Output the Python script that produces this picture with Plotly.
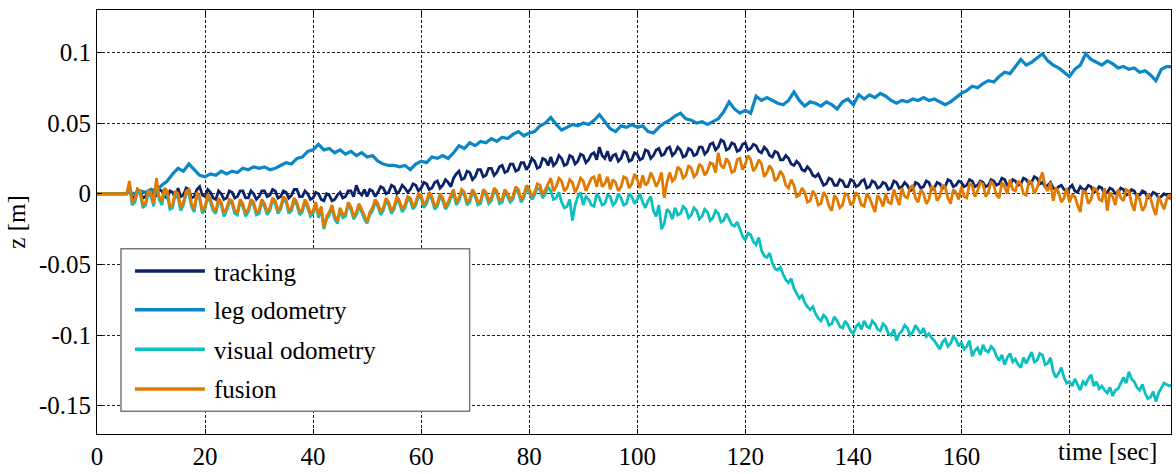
import plotly.graph_objects as go

# sample times [sec]: whole seconds, plus half-second samples for the noisy series
time_sec = list(range(200))
time_half = [t + 0.5 for t in range(199)]

tracking = [
    0, 0, 0, 0, 0, 0,
    0.002, -0.003, 0.001, -0.002, 0.003, -0.001, 0.002, -0.003, 0.001, 0.004, -0.001, 0.003, -0.002, 0.005, -0.002,
    0.001, -0.004, 0.000, -0.003, 0.001, -0.002, 0.002, -0.003, 0.000, -0.002, 0.002, -0.001, 0.002, -0.002, 0.001, -0.001, 0.003, -0.002, 0.000, -0.003,
    0.000, -0.005, -0.001, -0.004, 0.001, -0.002, 0.002, 0.006, -0.001, -0.002, 0.002, 0.001, 0.004, 0.001, 0.005, 0.002, 0.004, 0.003, 0.006, 0.004,
    0.007, 0.004, 0.009, 0.006, 0.008, 0.011, 0.016, 0.011, 0.015, 0.012, 0.017, 0.013, 0.018, 0.015, 0.020, 0.016, 0.021, 0.017, 0.022, 0.020,
    0.023, 0.019, 0.024, 0.026, 0.022, 0.025, 0.021, 0.026, 0.023, 0.027, 0.024, 0.029, 0.033, 0.025, 0.023, 0.028, 0.025, 0.029, 0.024, 0.028,
    0.025, 0.030, 0.027, 0.032, 0.028, 0.033, 0.029, 0.031, 0.027, 0.031, 0.028, 0.033, 0.030, 0.036, 0.033, 0.037, 0.032, 0.035, 0.031, 0.036,
    0.032, 0.034, 0.029, 0.031, 0.026, 0.029, 0.024, 0.025, 0.020, 0.021, 0.016, 0.017, 0.012, 0.010, 0.007, 0.010, 0.006, 0.009, 0.005, 0.009,
    0.006, 0.010, 0.005, 0.008, 0.005, 0.007, 0.004, 0.008, 0.005, 0.006, 0.003, 0.007, 0.005, 0.008, 0.004, 0.007, 0.005, 0.009, 0.006, 0.008,
    0.006, 0.009, 0.006, 0.008, 0.006, 0.009, 0.007, 0.010, 0.006, 0.009, 0.007, 0.010, 0.008, 0.011, 0.008, 0.006, 0.004, 0.005, 0.003, 0.004,
    0.002, 0.005, 0.003, 0.005, 0.002, 0.004, 0.001, 0.003, 0.001, 0.003, 0.000, 0.002, -0.001, 0.001, -0.002, 0.000, -0.002, -0.001, -0.002,
]
tracking_half = [
    0, 0, 0, 0, 0, 0,
    -0.002, 0.003, -0.003, 0.002, -0.003, 0.003, -0.002, 0.002, -0.003, -0.002, 0.004, -0.003, 0.003, -0.001, 0.003,
    -0.003, 0.002, -0.004, 0.002, -0.003, 0.002, -0.003, 0.002, -0.004, 0.002, -0.002, 0.003, -0.003, 0.002, -0.003, 0.003, -0.002, 0.002, -0.004, 0.001,
    -0.004, 0.000, -0.005, -0.001, -0.003, 0.002, -0.002, 0.001, 0.003, 0.003,
    -0.002, 0.005, 0.000, 0.006, 0.000, 0.006, 0.001, 0.007, 0.002, 0.008,
    0.003, 0.008, 0.004, 0.010, 0.005, 0.014, 0.010, 0.016, 0.010, 0.017,
    0.012, 0.018, 0.013, 0.019, 0.015, 0.021, 0.016, 0.022, 0.017, 0.025,
    0.018, 0.025, 0.020, 0.020, 0.027, 0.020, 0.027, 0.021, 0.028, 0.022,
    0.028, 0.024, 0.027, 0.030, 0.027, 0.023, 0.030, 0.023, 0.029, 0.024,
    0.031, 0.025, 0.031, 0.027, 0.032, 0.027, 0.033, 0.026, 0.032, 0.027,
    0.033, 0.028, 0.035, 0.031, 0.038, 0.031, 0.036, 0.030, 0.035, 0.031,
    0.035, 0.030, 0.033, 0.027, 0.030, 0.024, 0.027, 0.021, 0.023, 0.017,
    0.019, 0.013, 0.014, 0.006, 0.011, 0.006, 0.010, 0.005, 0.010, 0.005,
    0.009, 0.004, 0.009, 0.004, 0.008, 0.003, 0.009, 0.004, 0.008, 0.002,
    0.008, 0.004, 0.009, 0.003, 0.008, 0.004, 0.010, 0.005, 0.009, 0.005,
    0.010, 0.005, 0.009, 0.005, 0.010, 0.006, 0.011, 0.006, 0.010, 0.006,
    0.011, 0.007, 0.012, 0.007, 0.005, 0.008, 0.003, 0.006, 0.002, 0.006,
    0.001, 0.003, 0.006, 0.001, 0.005, 0.000, 0.004, 0.000, 0.004, -0.001,
    0.003, -0.002, 0.002, -0.003, 0.001, -0.003, 0.000, -0.003,
]

leg_odometry = [
    0, 0, 0, 0, 0, 0, 0.001, 0.000, 0.002, 0.001,
    0.003, 0.002, 0.006, 0.009, 0.014, 0.018, 0.016, 0.021, 0.017, 0.013, 0.012,
    0.014, 0.013, 0.016, 0.014, 0.016, 0.015, 0.018, 0.017, 0.019, 0.018,
    0.019, 0.017, 0.018, 0.020, 0.022, 0.021, 0.025, 0.026, 0.030, 0.031,
    0.035, 0.031, 0.032, 0.029, 0.031, 0.028, 0.030, 0.027, 0.029, 0.026,
    0.027, 0.023, 0.021, 0.020, 0.020, 0.019, 0.020, 0.017, 0.021, 0.023,
    0.022, 0.026, 0.025, 0.027, 0.025, 0.029, 0.034, 0.032, 0.036, 0.034,
    0.037, 0.036, 0.039, 0.037, 0.040, 0.039, 0.042, 0.044, 0.041, 0.043,
    0.044, 0.048, 0.050, 0.054, 0.049, 0.045, 0.047, 0.049, 0.048, 0.050,
    0.049, 0.052, 0.056, 0.051, 0.046, 0.044, 0.048, 0.047, 0.049, 0.047,
    0.048, 0.044, 0.043, 0.047, 0.050, 0.052, 0.055, 0.057, 0.053, 0.052,
    0.050, 0.051, 0.049, 0.051, 0.053, 0.058, 0.065, 0.060, 0.057, 0.059,
    0.057, 0.069, 0.066, 0.068, 0.066, 0.064, 0.063, 0.066, 0.072, 0.066,
    0.062, 0.065, 0.064, 0.062, 0.065, 0.063, 0.060, 0.065, 0.067, 0.063,
    0.070, 0.067, 0.070, 0.068, 0.071, 0.069, 0.066, 0.064, 0.066, 0.065,
    0.067, 0.066, 0.068, 0.066, 0.067, 0.065, 0.063, 0.065, 0.068, 0.071,
    0.073, 0.076, 0.075, 0.078, 0.080, 0.079, 0.083, 0.086, 0.085, 0.090,
    0.095, 0.091, 0.093, 0.096, 0.099, 0.094, 0.091, 0.089, 0.086, 0.083,
    0.088, 0.091, 0.099, 0.095, 0.093, 0.091, 0.094, 0.092, 0.089, 0.090,
    0.088, 0.089, 0.086, 0.087, 0.084, 0.080, 0.088, 0.090, 0.090,
]

visual_odometry = [
    0, 0, 0, 0, 0, 0,
    0.006, -0.006, 0.000, -0.008, -0.002, 0.008, -0.008, -0.001, -0.010, -0.003, -0.008, 0.000, -0.013, -0.004, -0.011,
    -0.006, -0.014, -0.008, -0.012, -0.007, -0.015, -0.009, -0.013, -0.008, -0.014, -0.009, -0.012, -0.007, -0.011, -0.006, -0.012, -0.008, -0.013, -0.010, -0.014,
    -0.017, -0.025, -0.015, -0.018, -0.012, -0.016, -0.011, -0.015, -0.013, -0.021,
    -0.012, -0.009, -0.012, -0.008, -0.011, -0.007, -0.010, -0.005, -0.008, -0.003,
    -0.007, -0.004, -0.009, -0.005, -0.008, 0.000, -0.005, -0.001, -0.006, -0.002,
    -0.007, -0.001, -0.005, 0.000, -0.006, -0.002, -0.004, 0.001, -0.003, 0.001,
    -0.001, 0.003, 0.000, 0.002, -0.003, -0.006, -0.009, -0.019, -0.002, -0.008,
    -0.004, -0.009, -0.003, -0.007, -0.002, -0.006, -0.003, -0.007, -0.002, -0.004,
    -0.006, -0.005, -0.012, -0.008, -0.021, -0.013, -0.010, -0.014, -0.011, -0.015,
    -0.012, -0.016, -0.013, -0.017, -0.014, -0.019, -0.018, -0.023, -0.025, -0.033,
    -0.029, -0.036, -0.040, -0.045, -0.049, -0.054, -0.057, -0.063, -0.067, -0.074,
    -0.077, -0.082, -0.085, -0.090, -0.088, -0.092, -0.090, -0.095, -0.093, -0.099,
    -0.092, -0.090, -0.095, -0.092, -0.097, -0.094, -0.100, -0.104, -0.097, -0.095,
    -0.098, -0.096, -0.095, -0.099, -0.104, -0.110, -0.103, -0.106, -0.103, -0.105,
    -0.108, -0.115, -0.109, -0.107, -0.112, -0.110, -0.118, -0.121, -0.113, -0.117,
    -0.123, -0.120, -0.112, -0.118, -0.114, -0.120, -0.126, -0.127, -0.130, -0.133,
    -0.131, -0.139, -0.135, -0.128, -0.133, -0.136, -0.141, -0.143, -0.138, -0.130,
    -0.126, -0.133, -0.139, -0.141, -0.144, -0.147, -0.137, -0.135, -0.135,
]
visual_odometry_half = [
    0, 0, 0, 0, 0, 0,
    -0.008, 0.001, -0.010, 0.000, -0.009, -0.004, 0.002, -0.011, 0.000, -0.012, 0.000, -0.009, -0.001, -0.014, -0.002,
    -0.012, -0.005, -0.016, -0.006, -0.014, -0.006, -0.016, -0.006, -0.015, -0.006, -0.015, -0.005, -0.014, -0.004, -0.014, -0.005, -0.015, -0.006, -0.016, -0.008,
    -0.011, -0.018, -0.010, -0.021, -0.017, -0.008, -0.018, -0.009, -0.018, -0.015,
    -0.006, -0.015, -0.005, -0.014, -0.004, -0.013, -0.004, -0.011, -0.002, -0.010,
    -0.001, -0.011, -0.002, -0.011, -0.003, -0.008, 0.001, -0.008, 0.001, -0.008,
    0.001, -0.007, 0.002, -0.007, 0.001, -0.006, 0.003, -0.006, 0.004, -0.004,
    0.004, -0.003, 0.005, -0.004, 0.001, -0.010, -0.004, -0.008, 0.001, -0.002,
    -0.008, 0.000, -0.008, -0.001, -0.008, 0.000, -0.008, 0.000, -0.007, 0.000,
    -0.010, -0.002, -0.016, -0.025, -0.011, -0.018, -0.015, -0.009, -0.017, -0.010,
    -0.018, -0.011, -0.019, -0.012, -0.020, -0.014, -0.022, -0.020, -0.030, -0.028,
    -0.034, -0.031, -0.044, -0.042, -0.053, -0.052, -0.061, -0.060, -0.071, -0.072,
    -0.080, -0.080, -0.088, -0.086, -0.093, -0.087, -0.094, -0.090, -0.097, -0.094,
    -0.096, -0.094, -0.090, -0.096, -0.092, -0.099, -0.096, -0.099, -0.093, -0.100,
    -0.093, -0.099, -0.101, -0.102, -0.107, -0.105, -0.108, -0.101, -0.108, -0.110,
    -0.104, -0.111, -0.114, -0.111, -0.108, -0.115, -0.114, -0.116, -0.119, -0.121,
    -0.116, -0.116, -0.119, -0.113, -0.121, -0.116, -0.130, -0.123, -0.134, -0.136,
    -0.135, -0.133, -0.131, -0.136, -0.138, -0.139, -0.137, -0.139, -0.134, -0.134,
    -0.131, -0.137, -0.135, -0.145, -0.140, -0.141, -0.134, -0.136,
]

fusion = [
    0, 0, 0, 0, 0, 0,
    0.009, -0.004, 0.002, -0.006, 0.001, 0.011, -0.005, 0.002, -0.008, 0.000, -0.006, 0.003, -0.011, -0.002, -0.009,
    -0.004, -0.012, -0.006, -0.010, -0.005, -0.013, -0.007, -0.011, -0.006, -0.012, -0.007, -0.010, -0.005, -0.009, -0.004, -0.010, -0.006, -0.011, -0.008, -0.012,
    -0.015, -0.024, -0.013, -0.016, -0.010, -0.014, -0.009, -0.013, -0.011, -0.020,
    -0.010, -0.007, -0.010, -0.006, -0.009, -0.005, -0.008, -0.003, -0.006, -0.001,
    -0.005, -0.002, -0.007, -0.003, -0.006, 0.003, -0.003, 0.001, -0.004, 0.000,
    -0.005, 0.001, -0.003, 0.002, -0.004, 0.000, -0.002, 0.003, -0.001, 0.003,
    0.001, 0.006, 0.003, 0.011, 0.005, 0.009, 0.004, 0.008, 0.005, 0.009,
    0.006, 0.012, 0.014, 0.007, 0.003, 0.008, 0.005, 0.011, 0.007, 0.010,
    0.013, 0.008, 0.011, 0.009, -0.003, 0.015, 0.011, 0.017, 0.013, 0.018,
    0.014, 0.019, 0.016, 0.021, 0.029, 0.018, 0.022, 0.016, 0.025, 0.021,
    0.024, 0.019, 0.021, 0.015, 0.017, 0.011, 0.013, 0.004, 0.006, -0.001,
    0.001, -0.005, -0.001, -0.007, -0.002, -0.012, -0.004, -0.008, -0.001, -0.006,
    -0.002, -0.009, -0.003, -0.013, -0.004, 0.000, -0.007, -0.002, 0.004, -0.003,
    0.006, -0.006, 0.000, -0.004, 0.004, -0.002, 0.005, -0.007, 0.001, 0.005,
    -0.003, 0.006, 0.002, 0.007, 0.001, 0.006, -0.003, 0.005, 0.010, 0.002,
    0.007, -0.001, 0.008, 0.004, 0.015, 0.002, -0.005, 0.001, -0.003, -0.006,
    -0.002, -0.013, 0.001, -0.004, 0.003, -0.005, -0.012, -0.002, 0.003, -0.005,
    0.002, -0.012, -0.004, -0.009, -0.003, -0.015, -0.006, -0.004, -0.005,
]
fusion_half = [
    0, 0, 0, 0, 0, 0,
    -0.006, 0.003, -0.008, 0.002, -0.007, -0.002, 0.004, -0.009, 0.002, -0.010, 0.002, -0.007, 0.001, -0.012, 0.000,
    -0.010, -0.003, -0.014, -0.004, -0.012, -0.004, -0.014, -0.004, -0.013, -0.004, -0.013, -0.003, -0.012, -0.002, -0.012, -0.003, -0.013, -0.004, -0.014, -0.006,
    -0.009, -0.016, -0.008, -0.019, -0.015, -0.006, -0.016, -0.007, -0.016, -0.013,
    -0.004, -0.013, -0.003, -0.012, -0.002, -0.011, -0.002, -0.009, 0.000, -0.008,
    0.001, -0.009, 0.000, -0.009, -0.001, -0.006, 0.003, -0.006, 0.003, -0.006,
    0.003, -0.005, 0.004, -0.005, 0.003, -0.004, 0.005, -0.004, 0.006, -0.002,
    0.007, -0.001, 0.008, 0.002, 0.011, 0.002, 0.010, 0.001, 0.011, 0.002,
    0.011, 0.005, 0.005, 0.012, 0.010, 0.002, 0.012, 0.004, 0.014, 0.004,
    0.006, 0.015, 0.005, 0.015, 0.008, 0.009, 0.019, 0.011, 0.020, 0.012,
    0.021, 0.013, 0.022, 0.015, 0.020, 0.025, 0.015, 0.024, 0.017, 0.027,
    0.016, 0.024, 0.012, 0.020, 0.009, 0.016, 0.006, 0.010, -0.002, 0.004,
    -0.006, 0.002, -0.008, 0.001, -0.009, -0.001, -0.010, 0.000, -0.008, 0.001,
    -0.008, 0.000, -0.008, -0.001, -0.009, -0.006, 0.003, -0.008, -0.002, 0.004,
    -0.003, 0.003, -0.007, 0.005, -0.005, 0.006, -0.003, 0.003, -0.004, -0.002,
    0.007, -0.002, 0.008, -0.002, 0.009, -0.001, 0.008, 0.000, 0.003, 0.009,
    0.000, 0.009, 0.000, 0.010, 0.005, 0.008, 0.004, -0.006, 0.004, -0.001,
    -0.008, 0.002, -0.007, 0.004, -0.004, 0.004, 0.001, -0.008, -0.003, 0.003,
    -0.007, 0.000, -0.012, 0.000, -0.010, -0.002, -0.011, 0.000,
]


def merge(t_whole, v_whole, t_half, v_half):
    xs, ys = [], []
    for i in range(len(t_whole)):
        xs.append(t_whole[i]); ys.append(v_whole[i])
        if i < len(t_half) and i < len(v_half):
            xs.append(t_half[i]); ys.append(v_half[i])
    return xs, ys


series_names = ["tracking", "leg odometry", "visual odometry", "fusion"]
series_colors = ["#0c2369", "#0b86c6", "#0cc0c0", "#e17a00"]
series_xy = [
    merge(time_sec, tracking, time_half, tracking_half),
    (time_sec, leg_odometry),
    merge(time_sec, visual_odometry, time_half, visual_odometry_half),
    merge(time_sec, fusion, time_half, fusion_half),
]
series_widths = [2.8, 3.2, 2.8, 2.8]

x_tickvals = [0, 20, 40, 60, 80, 100, 120, 140, 160, 180]
x_ticktext = ["0", "20", "40", "60", "80", "100", "120", "140", "160", ""]
y_tickvals = [-0.15, -0.1, -0.05, 0, 0.05, 0.1]
y_ticktext = ["-0.15", "-0.1", "-0.05", "0", "0.05", "0.1"]

FONT = "Liberation Serif"

fig = go.Figure()
for name, (xs, ys), col, w in zip(series_names, series_xy, series_colors, series_widths):
    fig.add_trace(go.Scatter(x=xs, y=ys, mode="lines", name=name,
                             line=dict(color=col, width=w), showlegend=False))

axis_common = dict(
    showline=True, linecolor="black", linewidth=1, mirror="ticks",
    ticks="inside", ticklen=5, tickcolor="black",
    showgrid=True, gridcolor="#222222", gridwidth=1, griddash="3px,2px",
    zeroline=False, tickfont=dict(family=FONT, size=25, color="black"),
)

fig.update_layout(
    width=1176, height=474,
    margin=dict(l=97, r=4, t=10, b=36),
    paper_bgcolor="white", plot_bgcolor="white",
    font=dict(family=FONT, size=25, color="black"),
    xaxis=dict(range=[0, 198.8], tickmode="array", tickvals=x_tickvals,
               ticktext=x_ticktext, **axis_common),
    yaxis=dict(range=[-0.17, 0.13], tickmode="array", tickvals=y_tickvals,
               ticktext=y_ticktext, title=dict(text="z [m]", standoff=6,
               font=dict(family=FONT, size=25, color="black")), **axis_common),
)

# x-axis label placed at the right end of the tick-label row
fig.add_annotation(text="time [sec]", xref="paper", yref="paper",
                   x=0.9888, y=-0.042, xanchor="right", yanchor="middle",
                   showarrow=False, font=dict(family=FONT, size=25, color="black"))

# legend drawn as a boxed key
W, H, L, B = 1075.0, 428.0, 97.0, 438.0
def px(x):
    return (x - L) / W
def py(y):
    return (B - y) / H

fig.add_shape(type="rect", xref="paper", yref="paper",
              x0=px(121), x1=px(470), y0=py(415), y1=py(251),
              line=dict(color="#7a7a7a", width=1.5), fillcolor="white", layer="above")
legend_rows = [273.5, 312.5, 352.5, 392.5]
for name, col, yy in zip(series_names, series_colors, legend_rows):
    fig.add_shape(type="line", xref="paper", yref="paper",
                  x0=px(135), x1=px(205), y0=py(yy), y1=py(yy),
                  line=dict(color=col, width=3.5), layer="above")
    fig.add_annotation(text=name, xref="paper", yref="paper",
                       x=px(212), y=py(yy + 1), xanchor="left", yanchor="middle",
                       showarrow=False, font=dict(family=FONT, size=25, color="black"))

fig.write_html("out.html")
